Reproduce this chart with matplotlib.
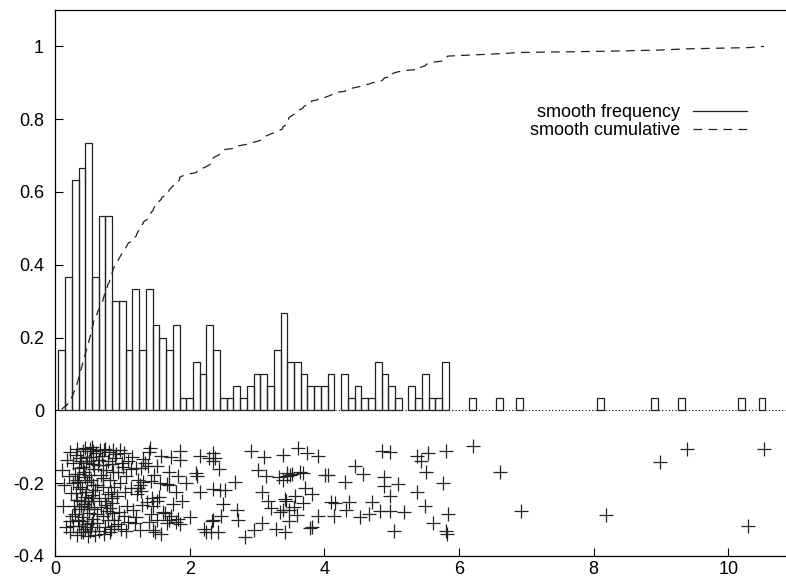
import numpy as np
import matplotlib.pyplot as plt
from matplotlib.lines import Line2D
from matplotlib.ticker import FuncFormatter

plt.rcParams['font.family'] = ['Liberation Sans', 'DejaVu Sans']
plt.rcParams['axes.unicode_minus'] = False

BIN_WIDTH = 0.1

# histogram: bin value (floor of x to 0.1) and number of points in it
bin_values = [0.1, 0.2, 0.3, 0.4, 0.5, 0.6, 0.7, 0.8, 0.9, 1.0,
              1.1, 1.2, 1.3, 1.4, 1.5, 1.6, 1.7, 1.8, 1.9, 2.0,
              2.1, 2.2, 2.3, 2.4, 2.5, 2.6, 2.7, 2.8, 2.9, 3.0,
              3.1, 3.2, 3.3, 3.4, 3.5, 3.6, 3.7, 3.8, 3.9, 4.0,
              4.1, 4.3, 4.4, 4.5, 4.6, 4.7, 4.8, 4.9, 5.0, 5.1,
              5.3, 5.4, 5.5, 5.6, 5.7, 5.8,
              6.2, 6.6, 6.9, 8.1, 8.9, 9.3, 10.2, 10.5]
bin_counts = [5, 11, 19, 20, 22, 11, 16, 16, 9, 9,
              5, 10, 5, 10, 7, 6, 5, 7, 1, 1,
              4, 3, 7, 5, 1, 1, 2, 1, 2, 3,
              3, 2, 5, 8, 4, 4, 3, 2, 2, 2,
              3, 3, 1, 2, 1, 1, 4, 3, 2, 1,
              2, 1, 3, 1, 1, 4,
              1, 1, 1, 1, 1, 1, 1, 1]

# raw data points (x) with their vertical jitter (y)
pts_x = [
    0.10, 0.12, 0.17, 0.14, 0.18,
    0.22, 0.22, 0.21, 0.24, 0.25, 0.27, 0.28, 0.26, 0.23, 0.29, 0.27,
    0.31, 0.32, 0.33, 0.34, 0.35, 0.36, 0.37, 0.38, 0.39, 0.30, 0.31, 0.33, 0.35, 0.36, 0.38, 0.32, 0.34, 0.37, 0.39,
    0.40, 0.41, 0.42, 0.43, 0.44, 0.45, 0.46, 0.47, 0.48, 0.49, 0.40, 0.42, 0.43, 0.45, 0.46, 0.47, 0.48, 0.49, 0.44, 0.41,
    0.50, 0.51, 0.52, 0.53, 0.54, 0.55, 0.56, 0.57, 0.58, 0.59, 0.50, 0.51, 0.53, 0.54, 0.55, 0.56, 0.57, 0.58, 0.59, 0.52, 0.55, 0.57,
    0.61, 0.62, 0.63, 0.64, 0.65, 0.66, 0.67, 0.68, 0.69, 0.63, 0.66,
    0.70, 0.71, 0.72, 0.73, 0.74, 0.75, 0.76, 0.77, 0.78, 0.79, 0.71, 0.73, 0.75, 0.76, 0.78, 0.72,
    0.80, 0.81, 0.82, 0.83, 0.84, 0.85, 0.86, 0.87, 0.88, 0.89, 0.81, 0.83, 0.85, 0.86, 0.88, 0.84,
    0.91, 0.92, 0.93, 0.94, 0.95, 0.96, 0.97, 0.98, 0.99,
    1.01, 1.02, 1.03, 1.04, 1.05, 1.06, 1.07, 1.08, 1.09,
    1.14, 1.13, 1.13, 1.16, 1.19,
    1.21, 1.27, 1.26, 1.23, 1.28, 1.22, 1.21, 1.26, 1.24, 1.29,
    1.31, 1.33, 1.31, 1.36, 1.38,
    1.41, 1.40, 1.47, 1.43, 1.46, 1.42, 1.46, 1.48, 1.40, 1.44,
    1.58, 1.52, 1.54, 1.52, 1.58, 1.56, 1.51,
    1.67, 1.60, 1.63, 1.69, 1.69, 1.66,
    1.72, 1.75, 1.73, 1.70, 1.79,
    1.85, 1.85, 1.83, 1.80, 1.85, 1.82, 1.88,
    1.94, 2.00,
    2.16, 2.10, 2.11, 2.15,
    2.21, 2.25, 2.28,
    2.34, 2.34, 2.37, 2.35, 2.33, 2.35, 2.31,
    2.45, 2.49, 2.42, 2.44, 2.47,
    2.52, 2.67, 2.71, 2.72, 2.82, 2.91, 2.95,
    3.02, 3.08, 3.07, 3.10, 3.13, 3.17, 3.21, 3.28,
    3.32, 3.38, 3.34, 3.38, 3.39,
    3.44, 3.49, 3.42, 3.47, 3.47, 3.42, 3.45, 3.43,
    3.52, 3.56, 3.59, 3.55, 3.61, 3.64, 3.68, 3.69,
    3.75, 3.71, 3.79, 3.81, 3.81, 3.91, 3.90,
    4.01, 4.06, 4.15, 4.10, 4.16, 4.31, 4.36, 4.32, 4.45, 4.57, 4.53, 4.67, 4.71,
    4.82, 4.86, 4.88, 4.89, 4.98, 4.98, 4.98, 5.09, 5.03, 5.18,
    5.38, 5.38, 5.44, 5.54, 5.51, 5.50, 5.62, 5.76, 5.81, 5.83, 5.80, 5.82,
    6.21, 6.61, 6.92, 8.19, 8.98, 9.39, 10.29, 10.53,
]
pts_y = [
    -0.163, -0.262, -0.320, -0.205, -0.135,
    -0.335, -0.115, -0.180, -0.228, -0.290, -0.145, -0.262, -0.200, -0.305, -0.175, -0.318,
    -0.122, -0.245, -0.190, -0.300, -0.158, -0.272, -0.210, -0.335, -0.140, -0.285, -0.228, -0.105, -0.318, -0.175, -0.250, -0.342, -0.198, -0.130, -0.262,
    -0.215, -0.112, -0.292, -0.168, -0.238, -0.325, -0.145, -0.270, -0.198, -0.345, -0.305, -0.155, -0.258, -0.102, -0.225, -0.312, -0.128, -0.248, -0.182, -0.335,
    -0.138, -0.265, -0.105, -0.320, -0.192, -0.232, -0.112, -0.298, -0.162, -0.342, -0.282, -0.178, -0.248, -0.128, -0.310, -0.205, -0.148, -0.272, -0.218, -0.332, -0.100, -0.240,
    -0.118, -0.285, -0.205, -0.150, -0.330, -0.240, -0.108, -0.265, -0.178, -0.308, -0.135,
    -0.125, -0.290, -0.210, -0.110, -0.250, -0.320, -0.165, -0.275, -0.140, -0.230, -0.185, -0.340, -0.105, -0.260, -0.300, -0.150,
    -0.115, -0.268, -0.190, -0.325, -0.148, -0.240, -0.110, -0.300, -0.210, -0.132, -0.335, -0.225, -0.282, -0.170, -0.318, -0.255,
    -0.120, -0.235, -0.312, -0.168, -0.278, -0.108, -0.200, -0.325, -0.145,
    -0.155, -0.290, -0.118, -0.225, -0.330, -0.180, -0.262, -0.306, -0.138,
    -0.129, -0.161, -0.212, -0.273, -0.310,
    -0.157, -0.159, -0.205, -0.214, -0.221, -0.230, -0.294, -0.328, -0.190, -0.260,
    -0.134, -0.145, -0.198, -0.253, -0.152,
    -0.102, -0.113, -0.178, -0.193, -0.264, -0.285, -0.328, -0.333, -0.306, -0.240,
    -0.125, -0.152, -0.239, -0.248, -0.340, -0.200, -0.300,
    -0.202, -0.278, -0.282, -0.168, -0.205, -0.310,
    -0.129, -0.257, -0.291, -0.300, -0.223,
    -0.111, -0.136, -0.297, -0.306, -0.312, -0.180, -0.250,
    -0.200, -0.294,
    -0.126, -0.172, -0.180, -0.225,
    -0.326, -0.333, -0.132,
    -0.117, -0.138, -0.132, -0.216, -0.303, -0.300, -0.333,
    -0.218, -0.257, -0.335, -0.160, -0.290,
    -0.218, -0.198, -0.273, -0.300, -0.347, -0.111, -0.328,
    -0.163, -0.223, -0.308, -0.129, -0.179, -0.248, -0.269, -0.326,
    -0.182, -0.191, -0.278, -0.273, -0.122,
    -0.172, -0.177, -0.244, -0.273, -0.303, -0.333, -0.180, -0.250,
    -0.175, -0.234, -0.288, -0.265, -0.102, -0.168, -0.172, -0.255,
    -0.117, -0.212, -0.324, -0.230, -0.319, -0.126, -0.291,
    -0.178, -0.178, -0.290, -0.253, -0.255, -0.198, -0.251, -0.273, -0.154, -0.175, -0.294, -0.285, -0.251,
    -0.276, -0.111, -0.184, -0.209, -0.114, -0.236, -0.276, -0.202, -0.332, -0.278,
    -0.125, -0.225, -0.138, -0.117, -0.168, -0.264, -0.308, -0.200, -0.111, -0.285, -0.331, -0.340,
    -0.099, -0.168, -0.277, -0.287, -0.141, -0.106, -0.317, -0.106,
]

n_total = sum(bin_counts)
freq = np.array(bin_counts) / (n_total * BIN_WIDTH)

xs = np.sort(np.array(pts_x))
cum = np.arange(1, len(xs) + 1) / len(xs)

fig = plt.figure(figsize=(7.86, 5.8), dpi=100)
ax = fig.add_axes([55 / 786, 24 / 580, 1 - 55 / 786, 546 / 580])

ax.axhline(0, color='black', lw=0.8, ls=(0, (1, 2)), zorder=1)
ax.bar(bin_values, freq, width=BIN_WIDTH, fill=False, edgecolor='#222222',
       linewidth=0.9, zorder=2)
ax.plot(xs, cum, color='#222222', lw=0.9, ls=(0, (7, 5)), zorder=3)
ax.plot(pts_x, pts_y, ls='none', marker='+', ms=9.5, mew=0.9,
        color='#222222', zorder=3)

ax.set_xlim(0, 731 / 67.33)
ax.set_ylim(-0.4, 1.1)
ax.set_xticks(np.arange(0, 11, 2))
ax.set_yticks([-0.4, -0.2, 0, 0.2, 0.4, 0.6, 0.8, 1.0])
ax.yaxis.set_major_formatter(FuncFormatter(lambda v, p: f"{round(v, 2):g}"))
ax.tick_params(direction='in', length=6, width=0.8, labelsize=13,
               top=False, right=False)
ax.tick_params(axis='x', pad=3.5)
ax.tick_params(axis='y', pad=8)
for s in ['left', 'bottom', 'top']:
    ax.spines[s].set_linewidth(0.9)
ax.spines['right'].set_visible(False)

handles = [Line2D([], [], color='#222222', lw=0.9),
           Line2D([], [], color='#222222', lw=0.9, ls=(0, (7, 5)))]
ax.legend(handles, ['smooth frequency', 'smooth cumulative'],
          loc='upper right', bbox_to_anchor=(0.9466, 0.828), frameon=False,
          markerfirst=False, fontsize=13, handlelength=3.0,
          handletextpad=0.72, labelspacing=0.06, borderpad=0,
          borderaxespad=0)

fig.savefig('out.png', dpi=100)
